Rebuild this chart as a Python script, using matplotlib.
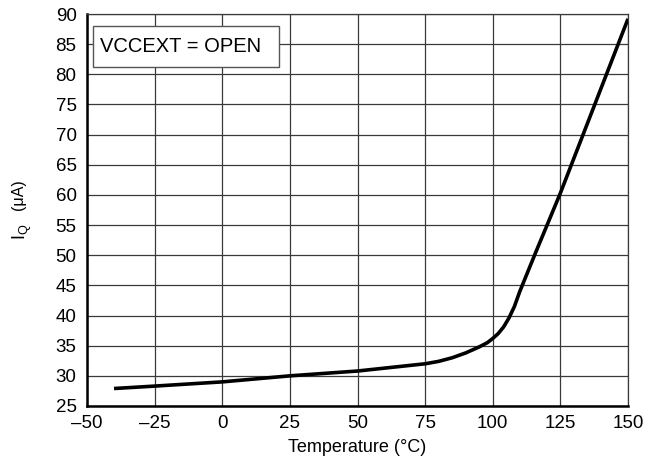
import numpy as np
import matplotlib.pyplot as plt
from matplotlib.patches import Rectangle

# curve
temp_c = [-40, -25, 0, 10, 25, 50, 75, 80, 85, 90, 95, 98, 100, 102, 104, 106,
          108, 110, 116, 125, 150]
iq_ua = [27.9, 28.3, 29.0, 29.4, 30.0, 30.8, 32.0, 32.4, 33.0, 33.8, 34.8, 35.5,
         36.2, 37.0, 38.1, 39.6, 41.5, 44.0, 50.6, 60.3, 89.2]

x_ticks = [-50, -25, 0, 25, 50, 75, 100, 125, 150]
x_labels = ["\u201350", "\u201325", "0", "25", "50", "75", "100", "125", "150"]
y_ticks = list(range(25, 95, 5))

plt.rcParams["font.family"] = "Liberation Sans"
plt.rcParams["mathtext.fontset"] = "custom"
plt.rcParams["mathtext.rm"] = "Liberation Sans"
plt.rcParams["mathtext.it"] = "Liberation Sans"

W, H = 656, 470
fig = plt.figure(figsize=(W / 100, H / 100), dpi=100)
ax = fig.add_axes([87 / W, 1 - 406 / H, (628 - 87) / W, (406 - 14) / H])

ax.plot(temp_c, iq_ua, color="black", linewidth=2.6, solid_capstyle="butt",
        solid_joinstyle="round", zorder=3)

ax.set_xlim(-50, 150)
ax.set_ylim(25, 90)
ax.set_xticks(x_ticks)
ax.set_xticklabels(x_labels)
ax.set_yticks(y_ticks)
ax.tick_params(axis="x", length=0, labelsize=13.5, pad=6.5)
ax.tick_params(axis="y", length=0, labelsize=13.5, pad=7.5)

ax.grid(True, color="#3a3a3a", linewidth=0.9)
ax.set_axisbelow(True)

for side in ["top", "right"]:
    ax.spines[side].set_linewidth(0.9)
    ax.spines[side].set_color("#3a3a3a")
for side in ["left", "bottom"]:
    ax.spines[side].set_linewidth(1.8)
    ax.spines[side].set_color("black")

ax.set_xlabel("Temperature (\u00b0C)", fontsize=13, labelpad=5)

# y label: I_Q with a smaller, raised unit
fig.text(26 / W, 1 - 240 / H, "I$_\\mathrm{Q}$", fontsize=13, rotation=90,
         rotation_mode="anchor", ha="left", va="baseline")
fig.text(23.5 / W, 1 - 210 / H, "(\u03bcA)", fontsize=11.5, rotation=90,
         rotation_mode="anchor", ha="left", va="baseline")

# label box
ax.add_patch(Rectangle((0.011, 0.865), 0.344, 0.104, transform=ax.transAxes,
                       facecolor="white", edgecolor="#555555", linewidth=1.0,
                       zorder=4))
ax.text(0.024, 0.917, "VCCEXT = OPEN", transform=ax.transAxes, fontsize=14.5,
        ha="left", va="center", zorder=5)

fig.savefig("out.png", dpi=100)
